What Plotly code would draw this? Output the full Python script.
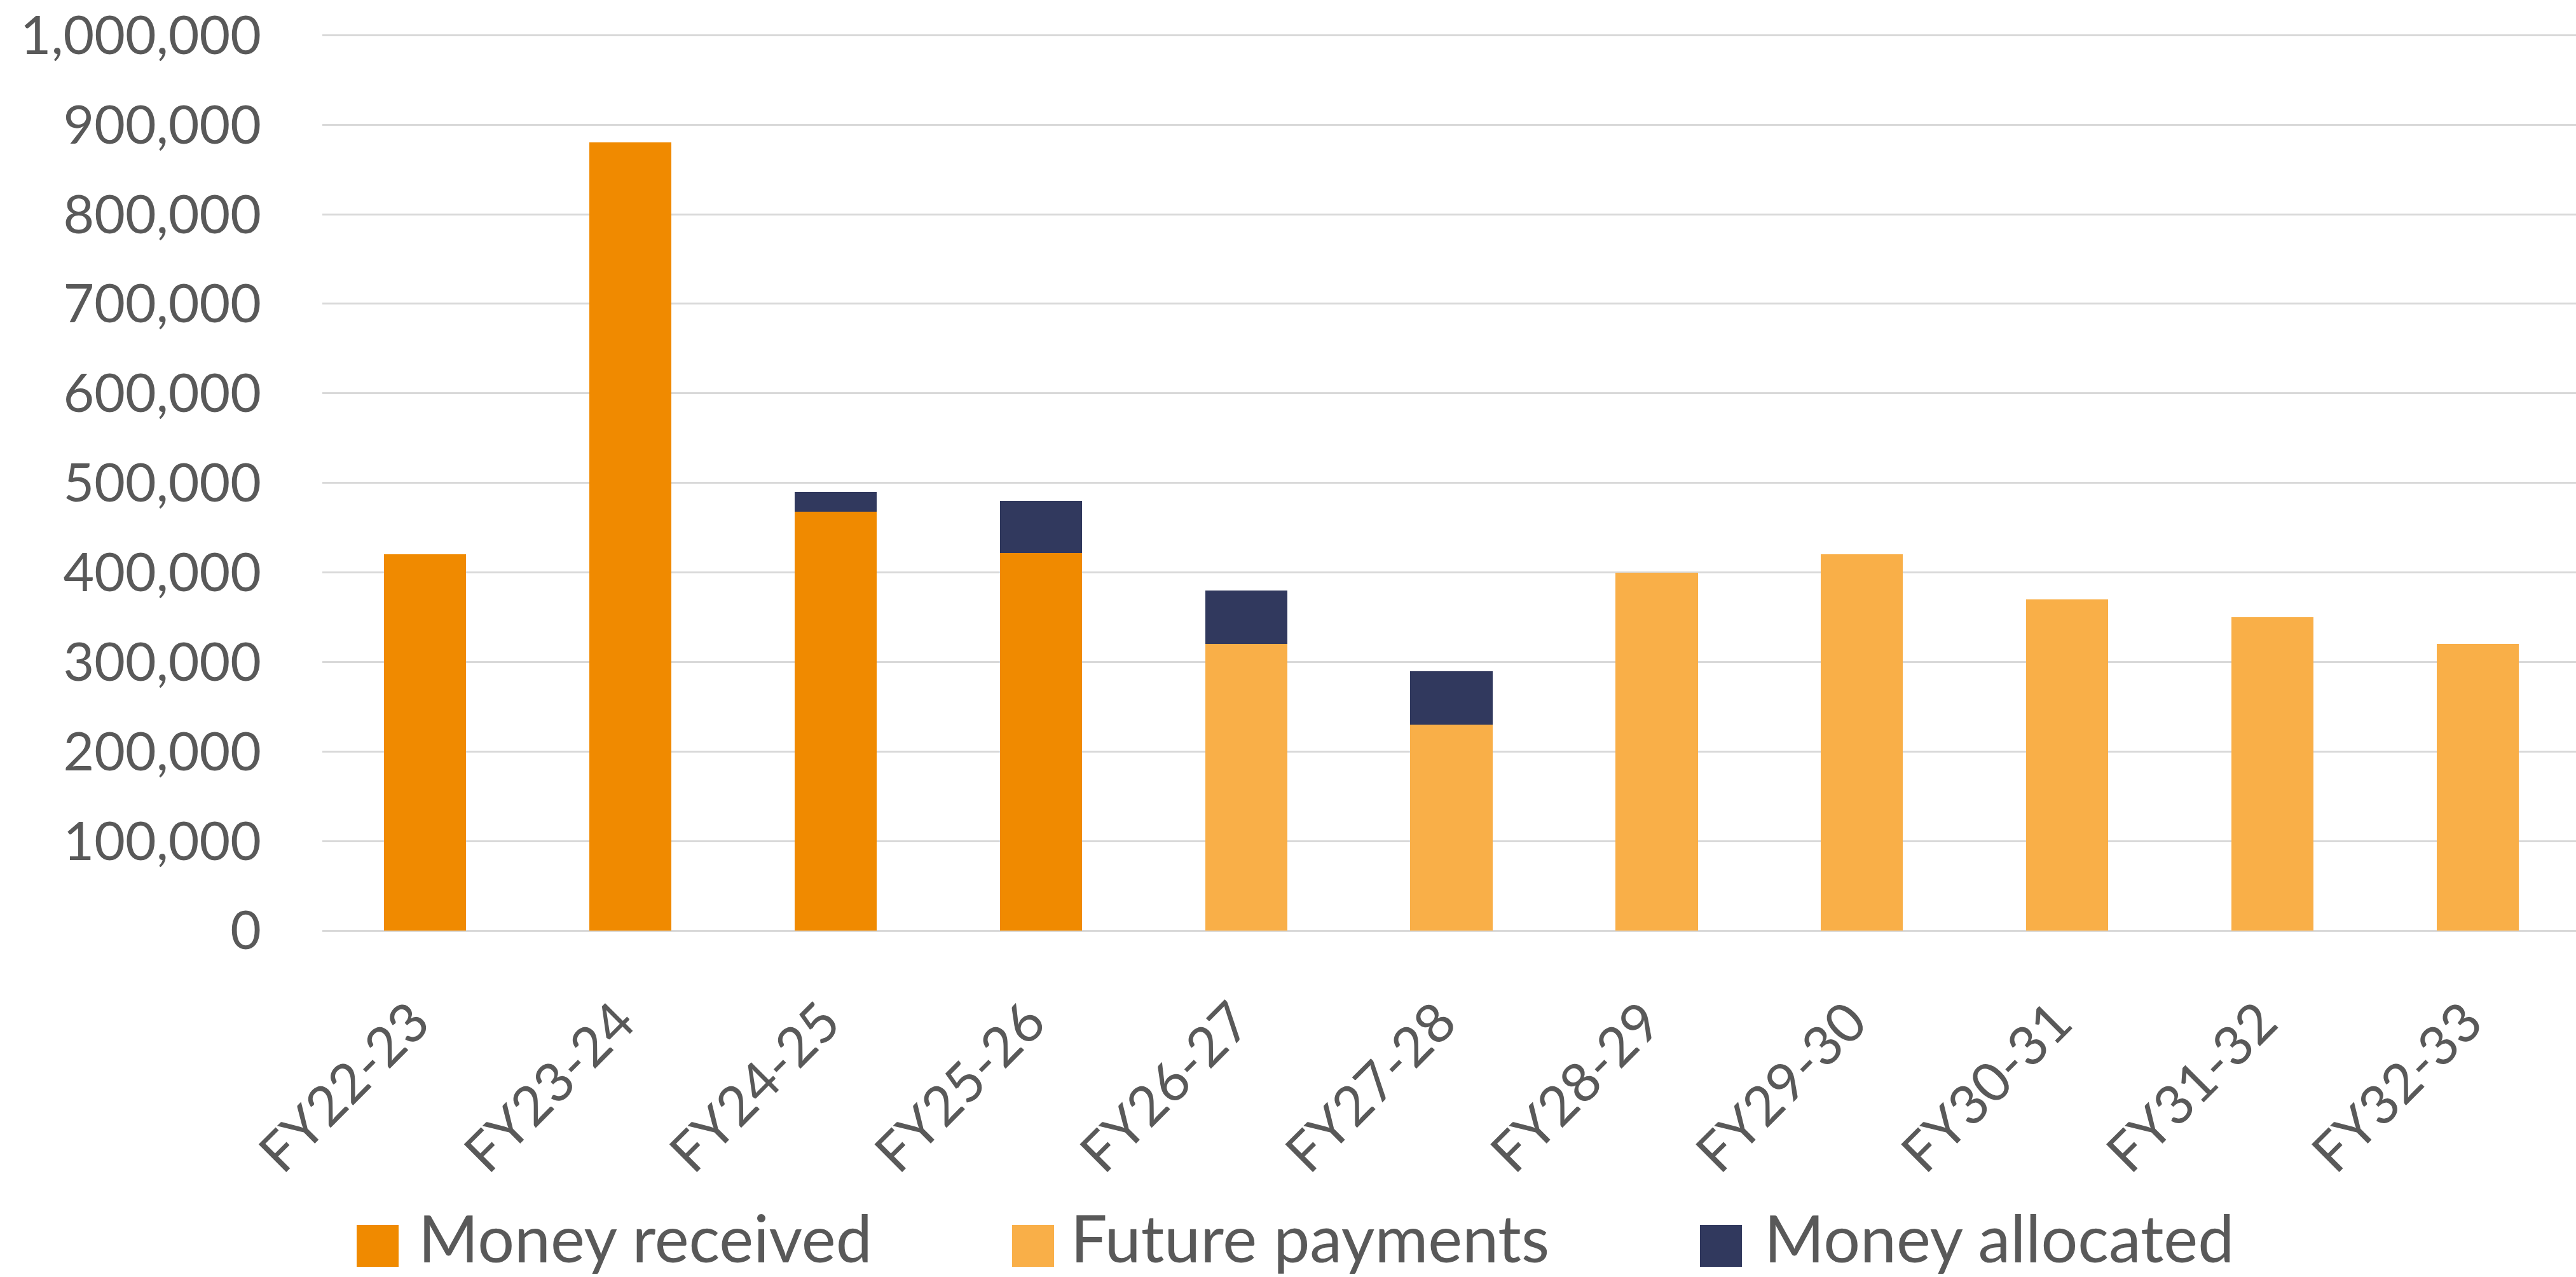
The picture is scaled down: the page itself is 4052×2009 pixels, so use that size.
import plotly.graph_objects as go

categories = ["FY22-23", "FY23-24", "FY24-25", "FY25-26", "FY26-27", "FY27-28",
              "FY28-29", "FY29-30", "FY30-31", "FY31-32", "FY32-33"]
money_received = [420000, 880000, 468000, 422000, None, None, None, None, None, None, None]
future_payments = [None, None, None, None, 320000, 230000, 400000, 420000, 370000, 350000, 320000]
money_allocated = [None, None, 22000, 58000, 60000, 60000, None, None, None, None, None]
y_ticks = [0, 100000, 200000, 300000, 400000, 500000, 600000, 700000, 800000, 900000, 1000000]

series_names = ["Money received", "Future payments", "Money allocated"]
series_colors = ["#F08A00", "#F9AF48", "#31395E"]
text_color = "#595959"
TICK_FONT = "Lato"
LEG_FONT = "Lato"

W, H = 4052, 2009
L, R, T, B = 507, 0, 54, 545

fig = go.Figure()
for name, vals, col in zip(series_names, [money_received, future_payments, money_allocated], series_colors):
    fig.add_trace(go.Bar(x=categories, y=vals, name=name, marker=dict(color=col, line=dict(width=0)),
                         showlegend=False))

# Manual legend (large swatches)
plot_w = W - L - R
plot_h = H - T - B
def px_x(p):
    return (p - L) / plot_w
def px_y(p):
    return (H - B - p) / plot_h

swatch_left = [561, 1592, 2674]
text_left = [656, 1682, 2773]
sw = 66
yc = 1960
shapes = []
annotations = []
for name, col, sx, tx in zip(series_names, series_colors, swatch_left, text_left):
    shapes.append(dict(type="rect", xref="paper", yref="paper",
                       x0=px_x(sx), x1=px_x(sx + sw), y0=px_y(yc + sw / 2), y1=px_y(yc - sw / 2),
                       fillcolor=col, line=dict(width=0)))
    annotations.append(dict(xref="paper", yref="paper", x=px_x(tx), y=px_y(1946), xanchor="left",
                            yanchor="middle", text=name, showarrow=False,
                            font=dict(family=LEG_FONT, size=102, color=text_color)))

fig.update_layout(
    width=W, height=H,
    margin=dict(l=L, r=R, t=T, b=B, pad=0, autoexpand=False),
    barmode="stack",
    bargap=0.6,
    plot_bgcolor="white", paper_bgcolor="white",
    font=dict(family=TICK_FONT, color=text_color),
    shapes=shapes, annotations=annotations,
    showlegend=False,
)
fig.update_xaxes(
    type="category", range=[-0.5, 10.478], automargin=False,
    tickangle=-45, tickfont=dict(family=TICK_FONT, size=86, color=text_color),
    showgrid=False, showline=False, ticks="", ticklabelstandoff=75, ticklabelshift=-18,
)
fig.update_yaxes(
    range=[0, 1001000], tickvals=y_ticks, tickformat=",d", automargin=False,
    tickfont=dict(family=TICK_FONT, size=84, color=text_color), ticklabeloverflow="allow",
    showgrid=True, gridcolor="#D9D9D9", gridwidth=2.5,
    zeroline=True, zerolinecolor="#D9D9D9", zerolinewidth=2.5,
    showline=False, ticks="", ticklabelstandoff=95,
)

fig.write_html("out.html", config={"displayModeBar": False},
               post_script="document.body.style.margin='0';document.body.style.overflow='hidden';")
